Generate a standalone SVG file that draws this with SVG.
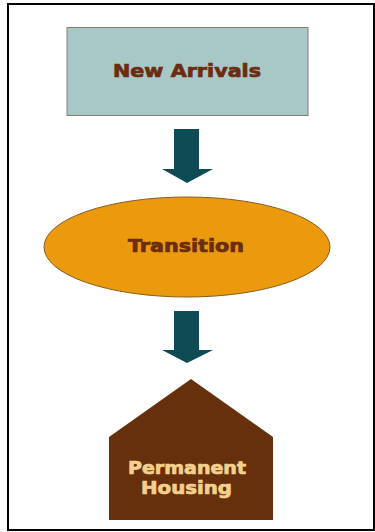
<svg xmlns="http://www.w3.org/2000/svg" width="375" height="532" viewBox="0 0 375 532">
<style>
.lbl{font-family:"DejaVu Sans","Liberation Sans",sans-serif;font-weight:bold;font-size:17px;text-anchor:middle;stroke-width:0.7px}
.dark{fill:#6B2D0F;stroke:#6B2D0F}
.light{fill:#F3D08E;stroke:#F3D08E}
.arrow{fill:#0E4B54}
</style>
<rect x="8" y="4" width="366" height="526" fill="#ffffff" stroke="#000000" stroke-width="2"/>
<g id="new-arrivals">
<rect x="67" y="27.5" width="241" height="88" fill="#A8C8C8" stroke="#8B7D6E" stroke-width="1"/>
<text class="lbl dark" x="187" y="77.3" textLength="148" lengthAdjust="spacingAndGlyphs">New Arrivals</text>
</g>
<g id="transition">
<ellipse cx="187" cy="247" rx="143" ry="50" fill="#EA9A0C" stroke="#8B5A1E" stroke-width="1"/>
<text class="lbl dark" x="186" y="252.3" textLength="116" lengthAdjust="spacingAndGlyphs">Transition</text>
</g>
<g id="permanent-housing">
<polygon points="191,379 273,437 273,520 109,520 109,437" fill="#65300B"/>
<text class="lbl light" x="187" y="474" textLength="118" lengthAdjust="spacingAndGlyphs">Permanent</text>
<text class="lbl light" x="186.5" y="494.3" textLength="91" lengthAdjust="spacingAndGlyphs">Housing</text>
</g>
<g id="connectors">
<polygon class="arrow" points="174,129 199,129 199,169 213,169 187,183 162,169 174,169"/>
<polygon class="arrow" points="174,311 199,311 199,350 213,350 187,363 162,350 174,350"/>
</g>
</svg>
